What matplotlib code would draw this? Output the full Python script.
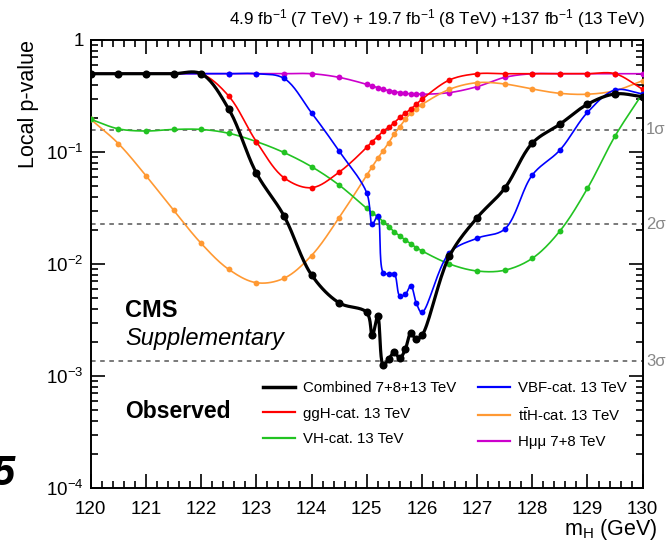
import numpy as np
import matplotlib
matplotlib.use("Agg")
import matplotlib.pyplot as plt
from matplotlib.lines import Line2D
from matplotlib.ticker import FixedLocator, FixedFormatter, LogLocator, MultipleLocator, NullFormatter

plt.rcParams['font.family'] = ['Liberation Sans', 'DejaVu Sans']
plt.rcParams['mathtext.fontset'] = 'custom'
plt.rcParams['mathtext.rm'] = 'Liberation Sans'
plt.rcParams['mathtext.it'] = 'Liberation Sans:italic'
plt.rcParams['mathtext.bf'] = 'Liberation Sans:bold'

# ---- observed local p-values vs m_H ----
fine = [125.0, 125.1, 125.2, 125.3, 125.4, 125.5, 125.6, 125.7, 125.8, 125.9, 126.0]
coarse_lo = [120.0, 120.5, 121.0, 121.5, 122.0, 122.5, 123.0, 123.5, 124.0, 124.5]
coarse_hi = [126.5, 127.0, 127.5, 128.0, 128.5, 129.0, 129.5, 130.0]
mass = coarse_lo + fine + coarse_hi

p_comb = [0.5, 0.5, 0.5, 0.5, 0.5, 0.242, 0.065, 0.027, 0.0080, 0.0045,
          0.0037, 0.0023, 0.0034, 0.00125, 0.00142, 0.00163, 0.00144, 0.00174, 0.0024, 0.00213, 0.0023,
          0.0118, 0.0259, 0.0474, 0.12, 0.177, 0.267, 0.33, 0.312]
p_vbf = [0.5, 0.5, 0.5, 0.5, 0.5, 0.5, 0.5, 0.455, 0.224, 0.102,
         0.0433, 0.0226, 0.0268, 0.00837, 0.00814, 0.00814, 0.00518, 0.00536, 0.0064, 0.00446, 0.0037,
         0.0126, 0.017, 0.0205, 0.0623, 0.104, 0.226, 0.358, 0.33]
p_ggh = [0.5, 0.5, 0.5, 0.5, 0.5, 0.316, 0.124, 0.059, 0.048, 0.066,
         0.110, 0.124, 0.137, 0.154, 0.166, 0.183, 0.204, 0.222, 0.242, 0.268, 0.295,
         0.44, 0.5, 0.5, 0.5, 0.5, 0.5, 0.5, 0.363]
p_tth = [0.196, 0.119, 0.0615, 0.0303, 0.0153, 0.00896, 0.00681, 0.00745, 0.0119, 0.0259,
         0.0623, 0.0739, 0.0878, 0.1027, 0.121, 0.145, 0.168, 0.196, 0.222, 0.244, 0.265,
         0.363, 0.416, 0.405, 0.365, 0.334, 0.328, 0.353, 0.433]
p_vh = [0.196, 0.161, 0.154, 0.159, 0.159, 0.147, 0.124, 0.099, 0.074, 0.0507,
        0.0314, 0.0287, 0.0263, 0.0239, 0.0215, 0.0194, 0.0178, 0.0164, 0.0151, 0.0140, 0.0131,
        0.0100, 0.00866, 0.0088, 0.01124, 0.0197, 0.0474, 0.139, 0.334]
p_hmm = [0.5, 0.5, 0.5, 0.5, 0.5, 0.5, 0.5, 0.5, 0.5, 0.464,
         0.402, 0.388, 0.375, 0.363, 0.353, 0.346, 0.339, 0.334, 0.330, 0.330, 0.328,
         0.339, 0.383, 0.464, 0.5, 0.5, 0.5, 0.5, 0.5]

sigma_lvl = [0.158655, 0.0227501, 0.0013499]
sigma_txt = ['1σ', '2σ', '3σ']


def smooth(x, y, n=20):
    # centripetal Catmull-Rom through the points, done in (mass, log p) space
    P = np.column_stack([np.asarray(x) * 55.2, np.log10(y) * 112.0])
    P = np.vstack([2 * P[0] - P[1], P, 2 * P[-1] - P[-2]])
    xs, ys = [], []
    for i in range(1, len(P) - 2):
        p0, p1, p2, p3 = P[i - 1], P[i], P[i + 1], P[i + 2]
        t0 = 0.0
        t1 = t0 + np.linalg.norm(p1 - p0) ** 0.5 + 1e-9
        t2 = t1 + np.linalg.norm(p2 - p1) ** 0.5 + 1e-9
        t3 = t2 + np.linalg.norm(p3 - p2) ** 0.5 + 1e-9
        t = np.linspace(t1, t2, n)[:, None]
        a1 = (t1 - t) / (t1 - t0) * p0 + (t - t0) / (t1 - t0) * p1
        a2 = (t2 - t) / (t2 - t1) * p1 + (t - t1) / (t2 - t1) * p2
        a3 = (t3 - t) / (t3 - t2) * p2 + (t - t2) / (t3 - t2) * p3
        b1 = (t2 - t) / (t2 - t0) * a1 + (t - t0) / (t2 - t0) * a2
        b2 = (t3 - t) / (t3 - t1) * a2 + (t - t1) / (t3 - t1) * a3
        c = (t2 - t) / (t2 - t1) * b1 + (t - t1) / (t2 - t1) * b2
        xs.append(c[:, 0] / 55.2)
        ys.append(10 ** (c[:, 1] / 112.0))
    return np.concatenate(xs), np.concatenate(ys)


fig = plt.figure(figsize=(6.68, 5.42), dpi=100)
ax = fig.add_axes([0.1358, 0.0996, 0.8263, 0.8266])
ax.set_yscale('log')
ax.set_xlim(120, 130)
ax.set_ylim(1e-4, 1)

for lvl, txt in zip(sigma_lvl, sigma_txt):
    ax.axhline(lvl, color='#555555', ls=(0, (3, 3)), lw=1.1, zorder=1)
    ax.text(1.006, lvl, txt, transform=ax.get_yaxis_transform(), ha='left', va='center',
            fontsize=12, color='#888888', clip_on=False)

series = [
    (p_hmm, '#cc00cc', 'Hμμ 7+8 TeV'),
    (p_tth, '#ff9933', r't$\bar{\mathrm{t}}$H-cat. 13 TeV'),
    (p_vh, '#22c322', 'VH-cat. 13 TeV'),
    (p_ggh, '#ff0000', 'ggH-cat. 13 TeV'),
    (p_vbf, '#0000ff', 'VBF-cat. 13 TeV'),
]
for i, (vals, col, lab) in enumerate(series):
    sx, sy = smooth(mass, vals)
    ax.plot(sx, sy, color=col, lw=1.2, zorder=3 + i)
    ax.plot(mass, vals, 'o', color=col, ms=4.2, mec='none', zorder=3 + i)

sx, sy = smooth(mass, p_comb)
ax.plot(sx, sy, color='black', lw=2.3, zorder=10)
ax.plot(mass, p_comb, 'o', color='black', ms=5.8, mec='none', zorder=10)

# axes styling, ROOT-like ticks on all sides
for s in ax.spines.values():
    s.set_linewidth(1.4)
ax.xaxis.set_major_locator(MultipleLocator(1))
ax.xaxis.set_minor_locator(MultipleLocator(0.2))
ax.yaxis.set_major_locator(FixedLocator([1e-4, 1e-3, 1e-2, 1e-1, 1]))
ax.yaxis.set_major_formatter(FixedFormatter(['$10^{-4}$', '$10^{-3}$', '$10^{-2}$', '$10^{-1}$', '1']))
ax.yaxis.set_minor_locator(LogLocator(base=10, subs=np.arange(2, 10)))
ax.yaxis.set_minor_formatter(NullFormatter())
ax.tick_params(which='both', direction='in', top=True, right=True, width=1.2, labelsize=13.5)
ax.tick_params(which='major', length=10)
ax.tick_params(which='minor', length=5)
ax.tick_params(axis='x', pad=9)
ax.tick_params(axis='y', pad=5)

ax.set_ylabel('Local p-value', fontsize=15.5, loc='top')
ax.yaxis.set_label_coords(-0.094, 1.0)
ax.set_xlabel('m$_{\\mathrm{H}}$ (GeV)', fontsize=15.5, loc='right')
ax.xaxis.set_label_coords(1.026, -0.064)

fig.text(0.966, 0.965, r'4.9 fb$^{-1}$ (7 TeV) + 19.7 fb$^{-1}$ (8 TeV) +137 fb$^{-1}$ (13 TeV)',
         ha='right', va='center', fontsize=12.3)
fig.text(0.187, 0.428, 'CMS', fontsize=17, fontweight='bold', va='center')
fig.text(0.187, 0.376, 'Supplementary', fontsize=17, style='italic', va='center')
fig.text(0.187, 0.240, 'Observed', fontsize=16.5, fontweight='bold', va='center')
fig.text(-0.012, 0.125, '5', fontsize=30, fontweight='bold', style='italic', va='center')

handles = [
    Line2D([], [], color='black', lw=2.5),
    Line2D([], [], color='#ff0000', lw=1.6),
    Line2D([], [], color='#22c322', lw=1.6),
    Line2D([], [], color='#0000ff', lw=1.6),
    Line2D([], [], color='#ff9933', lw=1.6),
    Line2D([], [], color='#cc00cc', lw=1.6),
]
labels = ['Combined 7+8+13 TeV', 'ggH-cat. 13 TeV', 'VH-cat. 13 TeV',
          'VBF-cat. 13 TeV', r't$\bar{\mathrm{t}}$H-cat. 13 TeV', 'Hμμ 7+8 TeV']
fig.legend(handles, labels, ncol=2, frameon=False, fontsize=10.8, loc='upper left',
           bbox_to_anchor=(0.383, 0.31), borderpad=0, handlelength=2.1,
           handletextpad=0.55, labelspacing=0.75, columnspacing=1.45)

fig.savefig('out.png', dpi=100)
